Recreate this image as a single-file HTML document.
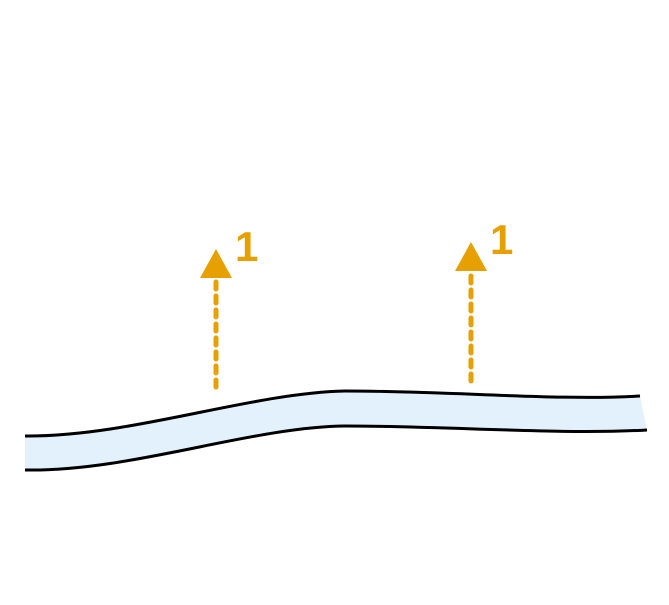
<!DOCTYPE html>
<html><head><style>body{margin:0;background:#fff}</style></head><body>
<svg width="669" height="600" xmlns="http://www.w3.org/2000/svg">
<path d="M25,436 C130,437 250,393 345,391 C450,391 560,401 640,396 L647,430 C560,435 450,426 345,426 C250,427 130,472 25,470 Z" fill="#e3f1fd"/>
<path d="M25,436 C130,437 250,393 345,391 C450,391 560,401 640,396" fill="none" stroke="#000" stroke-width="3"/>
<path d="M25,470 C130,472 250,427 345,426 C450,426 560,435 647,430" fill="none" stroke="#000" stroke-width="3"/>
<g stroke="#e6a000" stroke-width="5" stroke-dasharray="7,7" stroke-linecap="round">
<line x1="216" y1="282" x2="216" y2="388"/>
<line x1="471" y1="276" x2="471" y2="382"/>
</g>
<g fill="#e6a000">
<polygon points="216,249 232,278 200,278"/>
<polygon points="471,242 487,271 455,271"/>
<text x="235" y="261" font-family="Liberation Sans, sans-serif" font-weight="bold" font-size="42">1</text>
<text x="490" y="254" font-family="Liberation Sans, sans-serif" font-weight="bold" font-size="42">1</text>
</g>
</svg>
</body></html>
